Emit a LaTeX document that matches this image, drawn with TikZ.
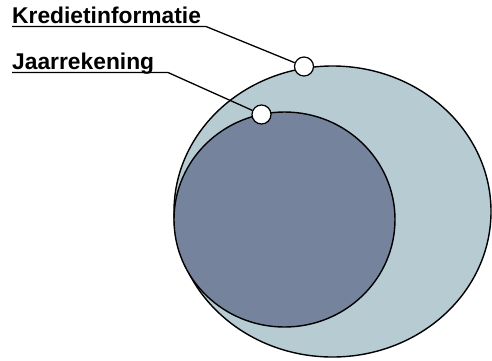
\documentclass[tikz,border=0pt]{standalone}
\usepackage{fontspec}
\setmainfont{Liberation Sans}
\definecolor{outerfill}{HTML}{B7CBD3}
\definecolor{innerfill}{HTML}{75839C}
\begin{document}
\begin{tikzpicture}[x=1pt,y=-1pt,
  lbl/.style={font=\fontsize{22.8}{27}\selectfont\bfseries, inner sep=0pt, anchor=base west},
  marker/.style={circle, draw=black, fill=white, line width=1.2pt, minimum size=19pt, inner sep=0pt},
  conn/.style={draw=black, line width=1.3pt},
  blob/.style={draw=black, line width=1.4pt}]
\useasboundingbox (0,0) rectangle (492,360);
\fill[white] (0,0) rectangle (492,360);
\path[blob, fill=outerfill] (332.5,211.5) ellipse [x radius=158.5pt, y radius=145.5pt];
\path[blob, fill=innerfill] (284.5,219.5) ellipse [x radius=110.5pt, y radius=107.5pt];
\node[lbl] (t1) at (12,23.5) {Kredietinformatie};
\node[lbl] (t2) at (12,69) {Jaarrekening};
\node[marker] (c1) at (304,66.5) {};
\node[marker] (c2) at (261.5,114.5) {};
\coordinate (u1) at (206,26.5);
\coordinate (u2) at (168,72.5);
\draw[conn] (t1.base west |- u1) -- (u1) -- (c1);
\draw[conn] (t2.base west |- u2) -- (u2) -- (c2);
\end{tikzpicture}
\end{document}
